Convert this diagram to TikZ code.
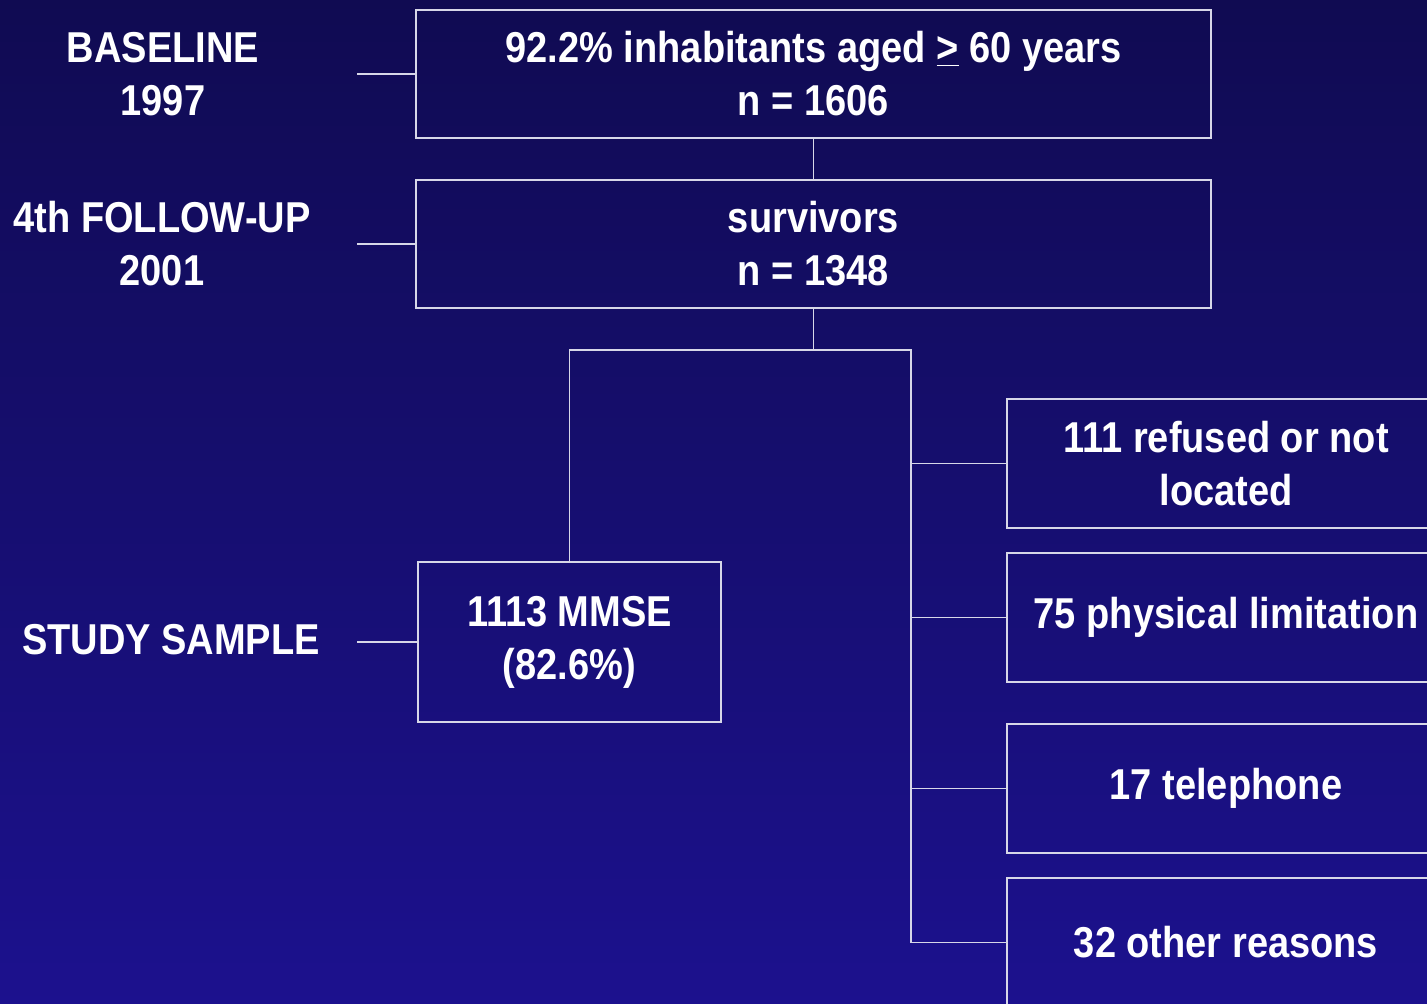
\documentclass[tikz,border=0pt]{standalone}
\usepackage{fontspec}
\setmainfont{Liberation Sans}[FakeStretch=0.88]
\definecolor{bgtop}{RGB}{16,11,82}
\definecolor{bgbot}{RGB}{28,17,142}
\definecolor{linecol}{RGB}{215,215,232}
\newcommand{\flowfont}{\fontsize{21.6}{26.5}\selectfont\bfseries}
\begin{document}
\begin{tikzpicture}[x=0.5pt,y=-0.5pt,
	box/.style={draw=linecol, line width=0.7pt, inner sep=0pt, align=center, text=white, font=\flowfont},
	lab/.style={text=white, align=center, font=\flowfont},
	link/.style={draw=linecol, line width=0.7pt}]
	\useasboundingbox (0,0) rectangle (1427,1004);
	\clip (0,0) rectangle (1427,1004);
	\fill[top color=bgtop, bottom color=bgbot] (0,0) rectangle (1427,1004);
	% stage labels
	\node[lab] (lbase) at (163,74) {BASELINE\\1997};
	\node[lab] (lfol) at (162,244) {4th FOLLOW-UP\\2001};
	\node[lab] (lstudy) at (171,640) {STUDY SAMPLE};
	% main boxes
	\node[box, minimum width=397.5pt, minimum height=64pt] (base) at (813.5,74) {92.2\% inhabitants aged \underline{>} 60 years\\n = 1606};
	\node[box, minimum width=397.5pt, minimum height=64pt] (surv) at (813.5,244) {survivors\\n = 1348};
	\node[box, minimum width=151.5pt, minimum height=80pt] (mmse) at (569.5,642) {1113 MMSE\\(82.6\%)};
	% excluded
	\node[box, minimum width=219pt, minimum height=64.5pt] (ref) at (1226,463.5) {111 refused or not\\located};
	\node[box, minimum width=219pt, minimum height=64.5pt] (phy) at (1226,617.5) {75 physical limitation};
	\node[box, minimum width=219pt, minimum height=64.5pt] (tel) at (1226,788.5) {17 telephone};
	\node[box, minimum width=219pt, minimum height=64.5pt] (oth) at (1226,942.5) {32 other reasons};
	\coordinate (b0) at (357,74);
	\coordinate (f0) at (357,244);
	\coordinate (s0) at (357,642);
	\coordinate (split) at (813.5,350);
	\coordinate (sr) at (911,350);
	\draw[link] (b0) -- (base.west);
	\draw[link] (f0) -- (surv.west);
	\draw[link] (s0) -- (mmse.west);
	\draw[link] (base.south) -- (surv.north);
	\draw[link] (surv.south) -- (split);
	\draw[link] (mmse.north) |- (sr) -- (sr |- oth.west);
	\foreach \n in {ref,phy,tel,oth}
		\draw[link] (sr |- \n.west) -- (\n.west);
\end{tikzpicture}
\end{document}
